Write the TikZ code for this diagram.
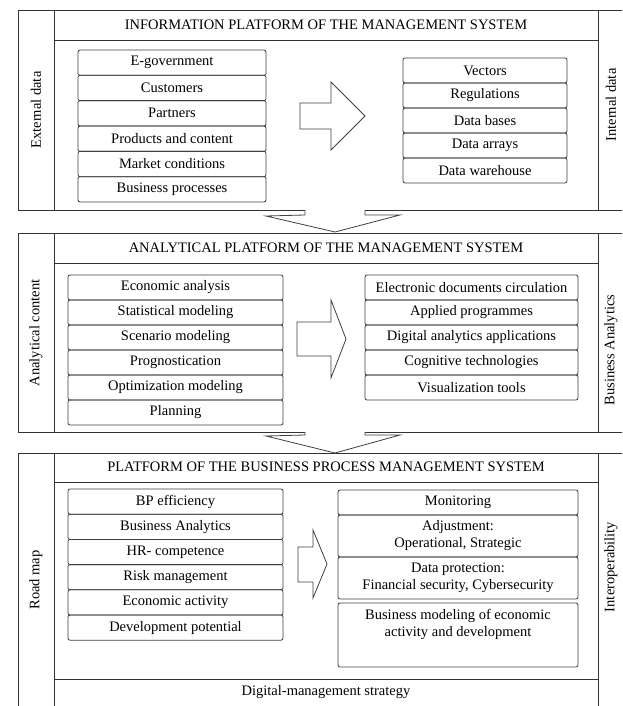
\documentclass[tikz,border=0pt]{standalone}
\usepackage{fontspec}
\setmainfont{Liberation Serif}
\begin{document}
\begin{tikzpicture}[x=1pt,y=-1pt,
  frame/.style={draw=black!80, line width=0.9pt},
  rowbox/.style={draw=black!75, line width=0.8pt, rounded corners=2pt, inner sep=1pt, align=center, font=\fontsize{14.5}{17}\selectfont},
  plaintext/.style={align=center, inner sep=1pt, font=\fontsize{14.5}{17}\selectfont},
  sidelabel/.style={rotate=90, font=\fontsize{14.5}{16}\selectfont},
  titletext/.style={font=\fontsize{14.5}{16}\selectfont},
  blockarrow/.style={draw=black!75, line width=0.8pt, fill=white, line join=miter}]
\useasboundingbox (0,0) rectangle (622,706);
\clip (0,0) rectangle (622,706);
\fill[white] (0,0) rectangle (622,706);

% ---------- Section 1 ----------
\draw[frame] (18,10) rectangle (650,210);
\draw[frame] (54,10) -- (54,210) (598,10) -- (598,210) (54,40) -- (598,40);
\node[titletext] (t1) at (326,25) {INFORMATION PLATFORM OF THE MANAGEMENT SYSTEM};
\node[sidelabel] (l1) at (36,110) {External data};
\node[sidelabel] (r1) at (611,105) {Internal data};

\begin{scope}[every node/.style={rowbox, minimum width=188pt, minimum height=25.3pt}]
\node (a1) at (172,62.7) {E-government};
\node (a2) at (172,88) {Customers};
\node (a3) at (172,113.3) {Partners};
\node (a4) at (172,138.7) {Products and content};
\node (a5) at (172,164) {Market conditions};
\node (a6) at (172,189.3) {Business processes};
\end{scope}
\begin{scope}[every node/.style={rowbox, minimum width=164pt, minimum height=25pt}]
\node (b1) at (485,70.5) {Vectors};
\node (b2) at (485,95.5) {Regulations};
\node (b3) at (485,120.5) {Data bases};
\node (b4) at (485,145.5) {Data arrays};
\node (b5) at (485,170.5) {Data warehouse};
\end{scope}
\draw[blockarrow] (300,103) -- (331,103) -- (331,82) -- (365,116) -- (331,150) -- (331,129) -- (300,129) -- cycle;

% down arrow 1 -> 2
\draw[blockarrow] (305,210) -- (305,215) -- (266,216) -- (335,232) -- (400,215) -- (365,215) -- (365,210);

% ---------- Section 2 ----------
\draw[frame] (18,233) rectangle (650,432);
\draw[frame] (54,233) -- (54,432) (598,233) -- (598,432) (54,263) -- (598,263);
\node[titletext] (t2) at (326,248) {ANALYTICAL PLATFORM OF THE MANAGEMENT SYSTEM};
\node[sidelabel] (l2) at (36,333) {Analytical content};
\node[sidelabel] (r2) at (611,350) {Business Analytics};

\begin{scope}[every node/.style={rowbox, minimum width=215pt, minimum height=25pt}]
\node (c1) at (175.5,287.5) {Economic analysis};
\node (c2) at (175.5,312.5) {Statistical modeling};
\node (c3) at (175.5,337.5) {Scenario modeling};
\node (c4) at (175.5,362.5) {Prognostication};
\node (c5) at (175.5,387.5) {Optimization modeling};
\node (c6) at (175.5,412.5) {Planning};
\end{scope}
\begin{scope}[every node/.style={rowbox, minimum width=213pt, minimum height=25pt}]
\node (d1) at (471.5,287.5) {Electronic documents circulation};
\node (d2) at (471.5,312.5) {Applied programmes};
\node (d3) at (471.5,337.5) {Digital analytics applications};
\node (d4) at (471.5,362.5) {Cognitive technologies};
\node (d5) at (471.5,387.5) {Visualization tools};
\end{scope}
\draw[blockarrow] (297,322) -- (331,322) -- (331,300) -- (346,339) -- (331,378) -- (331,356) -- (297,356) -- cycle;

% down arrow 2 -> 3
\draw[blockarrow] (305,432) -- (305,435) -- (266,436) -- (335,453) -- (400,435) -- (365,435) -- (365,432);

% ---------- Section 3 ----------
\draw[frame] (18,453) rectangle (650,730);
\draw[frame] (54,453) -- (54,730) (598,453) -- (598,730) (54,482) -- (598,482) (54,679) -- (598,679);
\node[titletext] (t3) at (326,467) {PLATFORM OF THE BUSINESS PROCESS MANAGEMENT SYSTEM};
\node[sidelabel] (l3) at (36,580) {Road map};
\node[sidelabel] (r3) at (611,567) {Interoperability};
\node[titletext] (s3) at (326,692) {Digital-management strategy};

\begin{scope}[every node/.style={rowbox, minimum width=215pt, minimum height=25.2pt}]
\node (e1) at (175.5,501.6) {BP efficiency};
\node (e2) at (175.5,526.8) {Business Analytics};
\node (e3) at (175.5,552.0) {HR- competence};
\node (e4) at (175.5,577.2) {Risk management};
\node (e5) at (175.5,602.4) {Economic activity};
\node (e6) at (175.5,627.6) {Development potential};
\end{scope}
\begin{scope}[every node/.style={rowbox, minimum width=240pt}]
\node[minimum height=25pt] (f1) at (458,502.5) {Monitoring};
\node[minimum height=42pt] (f2) at (458,536) {Adjustment:\\Operational, Strategic};
\node[minimum height=42pt] (f3) at (458,578) {Data protection:\\Financial security, Cybersecurity};
\node[minimum height=64pt] (f4) at (458,635) {};
\end{scope}
\node[plaintext, anchor=north] (f4t) at ([yshift=-5pt]f4.north) {Business modeling of economic\\activity and development};
\draw[blockarrow] (298,547) -- (313,547) -- (313,530) -- (327,564) -- (313,598) -- (313,582) -- (298,582) -- cycle;
\end{tikzpicture}
\end{document}
